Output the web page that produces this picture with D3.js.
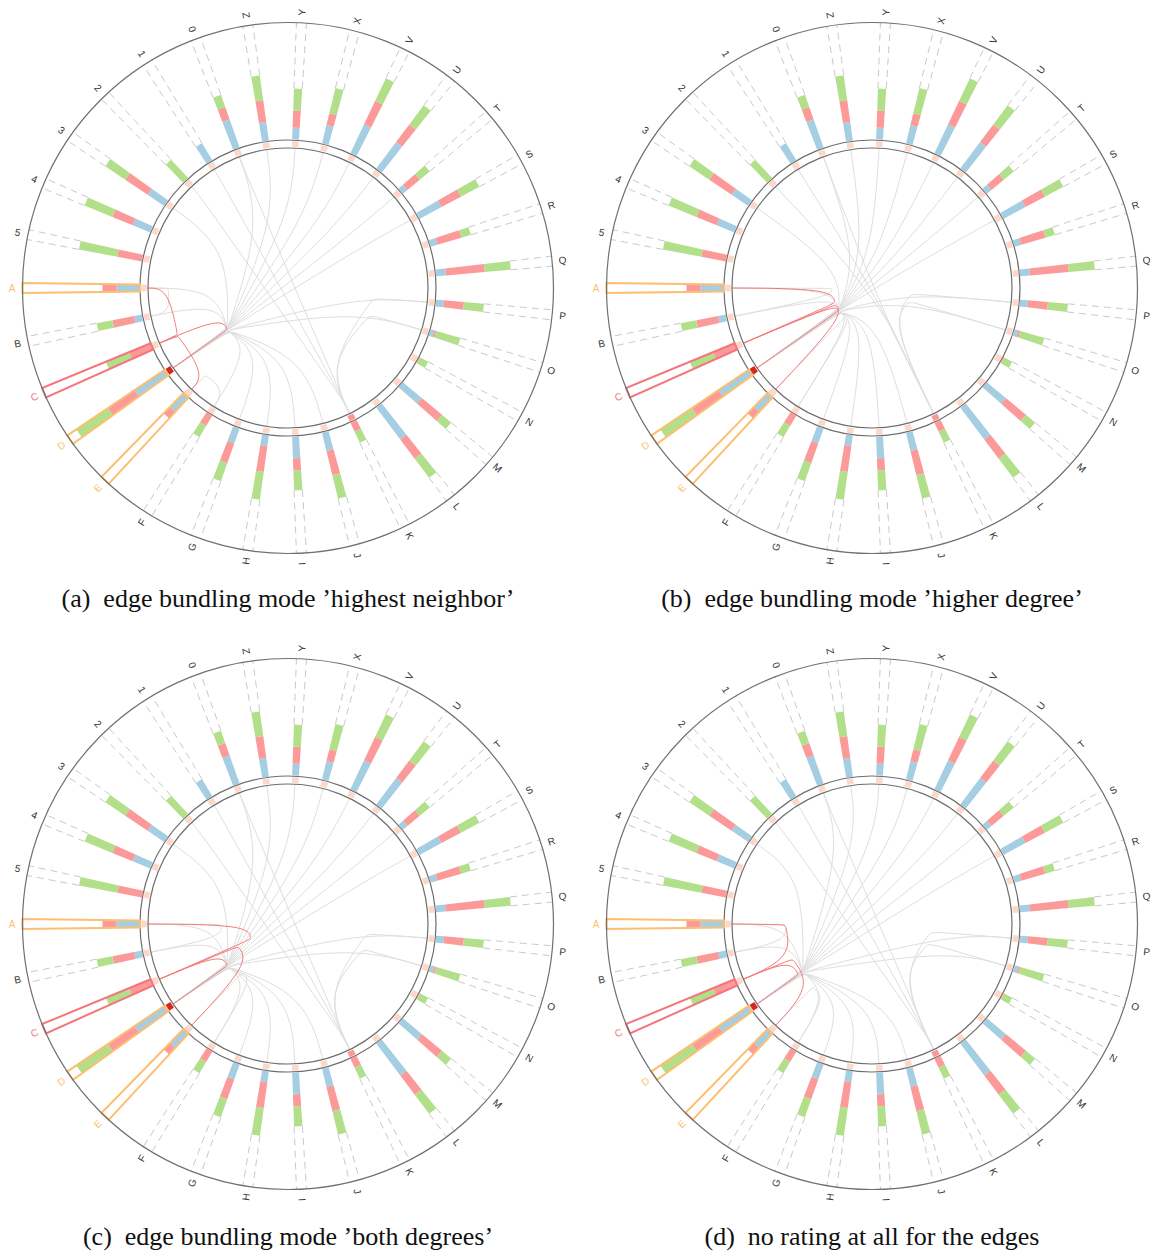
<!DOCTYPE html>
<html>
<head>
<meta charset="utf-8">
<script src="https://d3js.org/d3.v7.min.js"></script>
<style>
  body { margin: 0; background: #fff; }
  .lbl { font-family: "Liberation Sans", Arial, sans-serif; font-size: 10px; }
  .caption { font-family: "Liberation Serif", "Times New Roman", serif; font-size: 26px; fill: #111; white-space: pre; }
</style>
</head>
<body>
<div id="chart"></div>
<script>
// nodes, counter-clockwise starting at the left (A)
var nodes = ["A","B","C","D","E","F","G","H","I","J","K","L","M","N","O","P","Q","R","S","T","U","V","X","Y","Z","0","1","2","3","4","5"];
// stacked ratings per node (inner -> outer)
var blueVals  = [23, 8, 0,36,19, 0,16,11,22,19, 0,40,25, 0, 4, 8,10, 7,25, 6,33,32,19,12,19,30,20, 0,20,19, 0];
var redVals   = [14,22,23,32, 9,12,21,26,12,25,10,24,26, 1, 2,20,39,25,22,16,22,26,12,17,22,13, 0, 0,27,22,25];
var greenVals = [ 0,16,25,38, 0,13,19,28,20,24,12,24,12, 9,25,20,26,10,21,13,24,25,26,22,25,13, 0,25,24,30,39];
// ring marker state: 0 normal, 1 marked, 2 focused
var ringState = [0,0,0,2,0,0,0,0,0,0,1,0,0,0,0,0,0,0,0,0,0,0,0,0,0,0,0,0,0,0,0];

var selected = "C";

// edges: [bundling node, other node]
var edges = [
  ["C","A"],["D","C"],["C","E"],["A","B"],["E","F"],
  ["D","A"],["D","B"],["D","3"],["D","0"],["D","Z"],["D","Y"],["D","X"],["D","V"],["D","U"],["D","T"],["D","S"],["D","P"],["D","O"],
  ["D","F"],["D","G"],["D","H"],["D","I"],["D","J"],
  ["K","2"],["K","1"],["K","0"],["P","K"],["O","K"]
];
// bundling depth of each edge (fraction of the inner radius) per mode
var depthA = [0.85,0.5,0.85,0.85,0.85, 0.5,0.5,0.5,0.5,0.5,0.5,0.5,0.5,0.5,0.5,0.5,0.5,0.5, 0.5,0.5,0.5,0.5,0.5, 0.9,0.9,0.9,0.6,0.6];
var depthB = [0.25,0.25,0.25,0.25,0.25, 0.25,0.25,0.25,0.25,0.25,0.25,0.25,0.25,0.25,0.25,0.25,0.25,0.25, 0.25,0.25,0.25,0.25,0.25, 0.25,0.25,0.25,0.25,0.25];
var depthC = [0.25,0.5,0.36,0.45,0.45, 0.5,0.5,0.5,0.5,0.5,0.5,0.5,0.5,0.5,0.5,0.5,0.5,0.5, 0.5,0.5,0.5,0.5,0.5, 0.9,0.9,0.9,0.55,0.55];
var depthD = [0.6,0.62,0.6,0.6,0.6, 0.58,0.58,0.58,0.58,0.58,0.58,0.58,0.58,0.58,0.58,0.58,0.58,0.58, 0.58,0.58,0.58,0.58,0.58, 0.9,0.9,0.9,0.4,0.4];
// which end the edge bends toward in mode (d): 0 first node, 1 second node
var endD = [1,0,0,0,0, 0,0,0,0,0,0,0,0,0,0,0,0,0, 0,0,0,0,0, 0,0,0,0,0];

var captions = [
  "(a)  edge bundling mode \u2019highest neighbor\u2019",
  "(b)  edge bundling mode \u2019higher degree\u2019",
  "(c)  edge bundling mode \u2019both degrees\u2019",
  "(d)  no rating at all for the edges"
];

var W = 1153, H = 1254;
var svg = d3.select("#chart").append("svg").attr("width", W).attr("height", H);

var panels = [
  {cx: 288, cy: 288, depth: depthA, ty: 607},
  {cx: 872, cy: 288, depth: depthB, ty: 607},
  {cx: 288, cy: 924, depth: depthC, ty: 1245},
  {cx: 872, cy: 924, depth: depthD, end: endD, ty: 1245}
];

var R_EDGE = 140, R_RING = 148, R_OUT = 265.5, R_LABEL = 276, BAR0 = 148.5;
var N = nodes.length;
var angle = d3.scaleLinear().domain([0, N]).range([180, 540]);
var len = d3.scaleLinear().domain([0, 110]).range([0, 110]);
var ringColor = d3.scaleOrdinal().domain([0,1,2]).range(["#fdd8c8","#f99a98","#d9261e"]);
var idx = {};
nodes.forEach(function(n, i){ idx[n] = i; });

var neighbors = {};
edges.forEach(function(e){
  if (e[0] === selected) neighbors[e[1]] = true;
  if (e[1] === selected) neighbors[e[0]] = true;
});
function hiColor(n) {
  if (n === selected) return "#f4767c";
  if (neighbors[n]) return "#fdbf6f";
  return null;
}

function xy(a, r) { var t = a*Math.PI/180; return [r*Math.cos(t), -r*Math.sin(t)]; }
function halfW(r) { return 3.4 + (r - 148) * 0.0137; }
function band(a, r1, r2) {
  var t = a*Math.PI/180, ux = Math.cos(t), uy = -Math.sin(t), vx = Math.sin(t), vy = Math.cos(t);
  var w1 = halfW(r1), w2 = halfW(r2);
  var p = d3.path();
  p.moveTo(r1*ux + w1*vx, r1*uy + w1*vy);
  p.lineTo(r2*ux + w2*vx, r2*uy + w2*vy);
  p.lineTo(r2*ux - w2*vx, r2*uy - w2*vy);
  p.lineTo(r1*ux - w1*vx, r1*uy - w1*vy);
  p.closePath();
  return p.toString();
}
function sideLine(a, r1, r2, s) {
  var t = a*Math.PI/180, ux = Math.cos(t), uy = -Math.sin(t), vx = Math.sin(t), vy = Math.cos(t);
  var w1 = halfW(r1)*s, w2 = halfW(r2)*s;
  return "M" + (r1*ux + w1*vx) + "," + (r1*uy + w1*vy) + "L" + (r2*ux + w2*vx) + "," + (r2*uy + w2*vy);
}

var edgeLine = d3.line().curve(d3.curveBundle.beta(0.95));

panels.forEach(function(p, pi){
  var g = svg.append("g").attr("transform", "translate(" + p.cx + "," + p.cy + ")");

  // edges
  var eg = g.append("g").attr("fill", "none");
  var ordered = edges.map(function(e, i){
      var flip = p.end && p.end[i] === 1;
      return {a: flip ? e[1] : e[0], b: flip ? e[0] : e[1], d: p.depth[i], hot: e[0] === selected || e[1] === selected};
    })
    .sort(function(a, b){ return a.hot - b.hot; });
  eg.selectAll("path").data(ordered).enter().append("path")
    .attr("d", function(o){
      var a0 = angle(idx[o.a]), a1 = angle(idx[o.b]);
      var h = xy(a0, R_EDGE*o.d);
      return edgeLine([xy(a0, R_EDGE), h, h, xy(a1, R_EDGE*o.d), xy(a1, R_EDGE)]);
    })
    .attr("stroke", function(o){ return o.hot ? "#f47a7a" : "#dedede"; })
    .attr("stroke-width", 1);

  // inner double circle
  [R_EDGE, R_RING].forEach(function(r){
    g.append("circle").attr("r", r).attr("fill", "none").attr("stroke", "#6e6e6e").attr("stroke-width", 1.2);
  });

  // ring markers
  g.selectAll("path.ring").data(nodes).enter().append("path").attr("class", "ring")
    .attr("d", function(n, i){ return band(angle(i), 141.3, 146.8); })
    .attr("fill", function(n, i){ return ringColor(ringState[i]); });

  // stacked bars
  var segs = [];
  nodes.forEach(function(n, i){
    var r = BAR0;
    [[blueVals[i], "#a6cee3"], [redVals[i], "#fb9a99"], [greenVals[i], "#b2df8a"]].forEach(function(s){
      if (s[0] > 0) segs.push({i: i, r1: r, r2: r + len(s[0]), c: s[1]});
      r += len(s[0]);
    });
  });
  g.selectAll("path.seg").data(segs).enter().append("path").attr("class", "seg")
    .attr("d", function(s){ return band(angle(s.i), s.r1, s.r2); })
    .attr("fill", function(s){ return s.c; });

  // dashed guides / highlight outlines
  nodes.forEach(function(n, i){
    var a = angle(i);
    var hc = hiColor(n);
    if (hc) {
      g.append("path").attr("d", band(a, R_RING, R_OUT)).attr("fill", "none")
        .attr("stroke", hc).attr("stroke-width", 2);
    } else {
      var rEnd = BAR0 + len(blueVals[i] + redVals[i] + greenVals[i]);
      [1, -1].forEach(function(s){
        g.append("path").attr("d", sideLine(a, rEnd, R_OUT, s)).attr("fill", "none")
          .attr("stroke", "#c9c9c9").attr("stroke-width", 1).attr("stroke-dasharray", "7,5");
      });
    }
  });

  // outer circle
  g.append("circle").attr("r", R_OUT).attr("fill", "none").attr("stroke", "#707070").attr("stroke-width", 1.2);

  // labels
  g.selectAll("text.lbl").data(nodes).enter().append("text").attr("class", "lbl")
    .attr("transform", function(n, i){
      var a = angle(i), q = xy(a, R_LABEL);
      var rot = Math.cos(a*Math.PI/180) >= 0 ? -a : 180 - a;
      return "translate(" + q[0] + "," + q[1] + ") rotate(" + rot + ")";
    })
    .attr("text-anchor", "middle").attr("dominant-baseline", "central")
    .attr("fill", function(n){ return hiColor(n) || "#333"; })
    .text(function(n){ return n; });

  svg.append("text").attr("class", "caption").attr("x", p.cx).attr("y", p.ty)
    .attr("text-anchor", "middle").text(captions[pi]);
});
</script>
</body>
</html>
